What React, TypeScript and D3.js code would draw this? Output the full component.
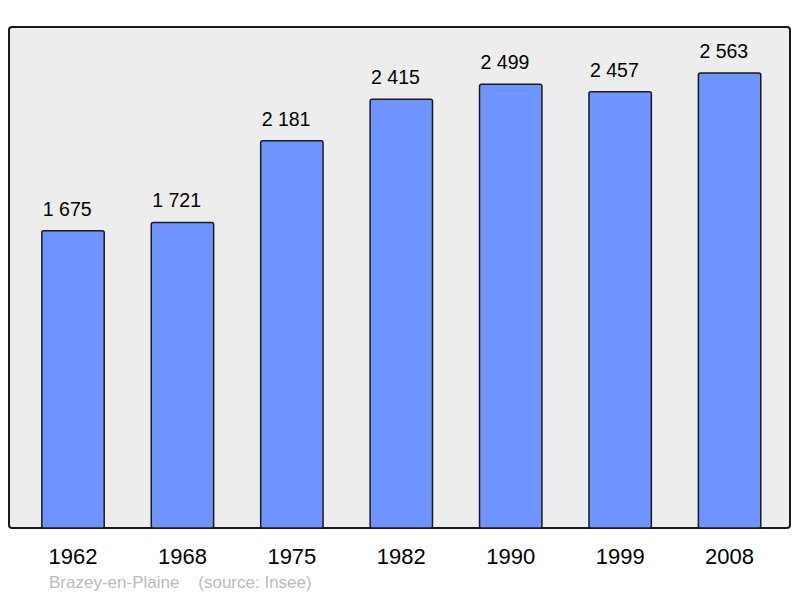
import React from "react";
import * as d3 from "d3";

const years = ["1962", "1968", "1975", "1982", "1990", "1999", "2008"];
const population = [1675, 1721, 2181, 2415, 2499, 2457, 2563];
const commune = "Brazey-en-Plaine";
const source = "(source: Insee)";

const W = 800, H = 598;
const frame = { x0: 9, y0: 27, x1: 790, y1: 528 };

export default function App() {
  const x = d3.scaleBand<string>().domain(years).range([18.3, 784.3]).paddingInner(0.43).paddingOuter(0.215);
  const y = d3.scaleLinear().domain([0, 2822]).range([frame.y1, frame.y0]);
  const fmt = (v: number) => d3.format(",")(v).replace(/,/g, " ");
  return (
    <svg width={W} height={H} style={{ position: "absolute", left: 0, top: 0 }} fontFamily="'Liberation Sans', Arial, sans-serif">
      <rect x={0} y={0} width={W} height={H} fill="#fff" />
      <rect x={frame.x0} y={frame.y0} width={frame.x1 - frame.x0} height={frame.y1 - frame.y0} rx={3} fill="#ededed" stroke="#1a1a1a" strokeWidth={2} />
      {years.map((yr, i) => {
        const bx = x(yr)!;
        const bw = x.bandwidth();
        const top = y(population[i]);
        return (
          <g key={yr}>
            <rect x={bx} y={top} width={bw} height={frame.y1 - top} rx={2} fill="#7094ff" stroke="#1a1a1a" strokeWidth={1.5} />
            <text x={bx + 1} y={top - 15} textAnchor="start" fontSize={19.5} fill="#000">{fmt(population[i])}</text>
            <text x={bx + bw / 2} y={563.5} textAnchor="middle" fontSize={22} fill="#000">{yr}</text>
          </g>
        );
      })}
      <text x={49} y={588} fontSize={17} fill="#bbbbbb" xmlSpace="preserve">{commune + "    " + source}</text>
    </svg>
  );
}
